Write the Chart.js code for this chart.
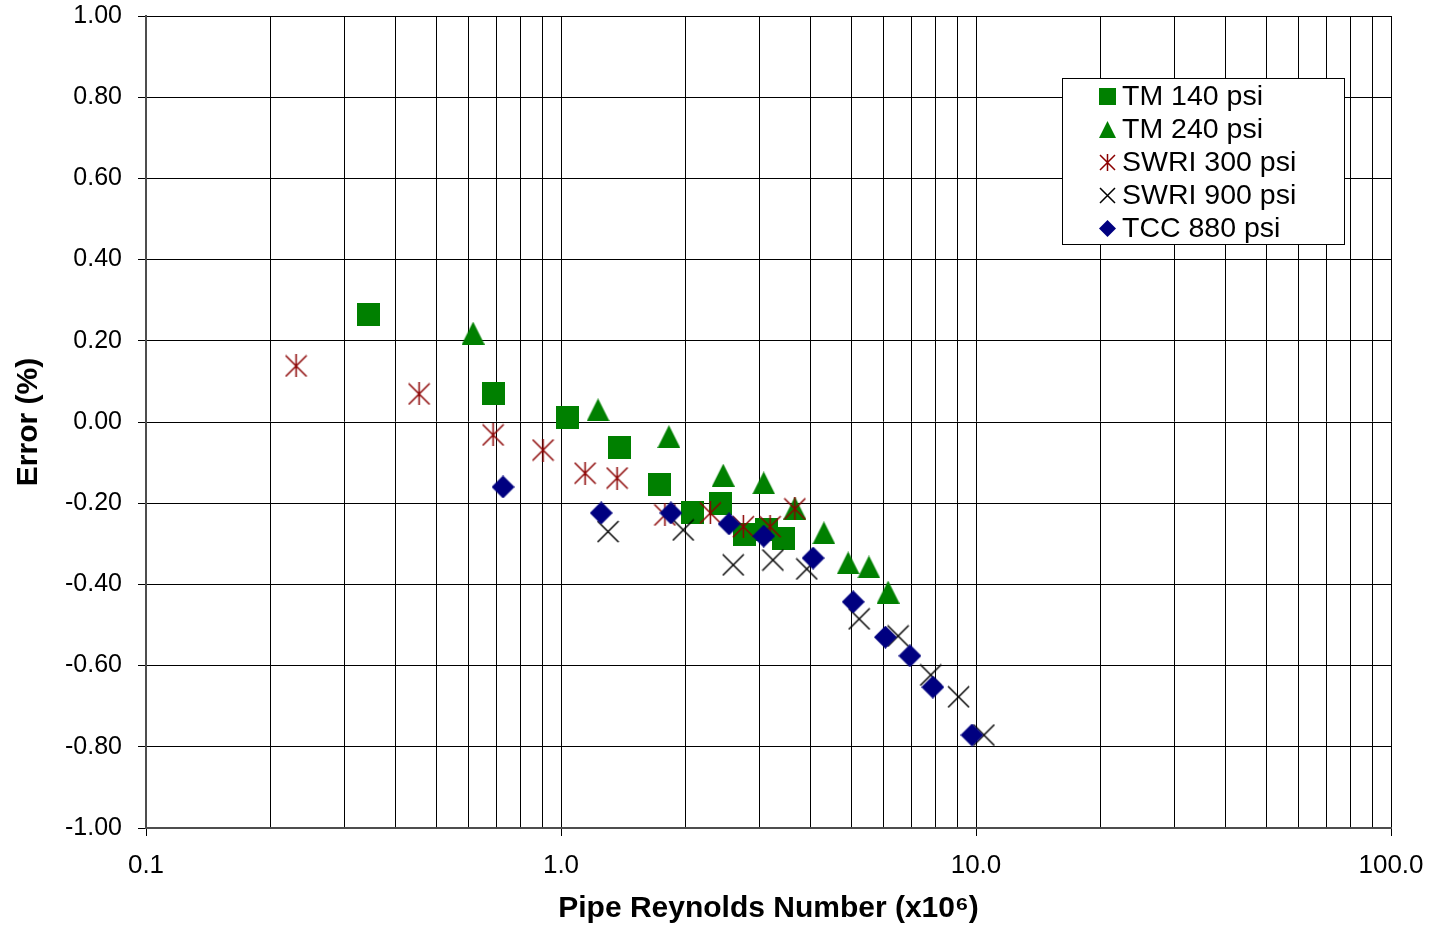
<!DOCTYPE html>
<html>
<head>
<meta charset="utf-8">
<title>Meter error vs pipe Reynolds number</title>
<script src="https://cdn.jsdelivr.net/npm/chart.js@4/dist/chart.umd.min.js"></script>
<style>
  html, body { margin: 0; padding: 0; background: #ffffff; }
  #wrap { width: 1431px; height: 927px; }
</style>
</head>
<body>
<div id="wrap"><canvas id="chart" width="1431" height="927"></canvas></div>
<script>
// Pipe Reynolds number (x10^6) and error (%) for each test series
const tm140X = [0.344, 0.686, 1.034, 1.387, 1.73, 2.07, 2.42, 2.77, 3.13, 3.43];
const tm140Y = [0.266, 0.071, 0.012, -0.062, -0.155, -0.224, -0.200, -0.278, -0.264, -0.286];

const tm240X = [0.614, 1.228, 1.82, 2.46, 3.08, 3.66, 4.30, 4.92, 5.52, 6.14];
const tm240Y = [0.219, 0.030, -0.036, -0.131, -0.150, -0.212, -0.273, -0.347, -0.357, -0.419];

const swri300X = [0.230, 0.455, 0.686, 0.905, 1.143, 1.365, 1.78, 2.29, 2.75, 3.19, 3.66];
const swri300Y = [0.138, 0.069, -0.032, -0.069, -0.126, -0.138, -0.229, -0.224, -0.258, -0.258, -0.214];

const swri900X = [1.298, 1.97, 2.60, 3.24, 3.91, 5.23, 6.49, 7.78, 9.08, 10.45];
const swri900Y = [-0.270, -0.266, -0.352, -0.340, -0.362, -0.485, -0.527, -0.623, -0.677, -0.771];

const tcc880X = [0.725, 1.25, 1.84, 2.54, 3.08, 4.05, 5.06, 6.05, 6.93, 7.87, 9.78];
const tcc880Y = [-0.160, -0.224, -0.224, -0.251, -0.281, -0.335, -0.443, -0.530, -0.576, -0.653, -0.771];

const seriesNames = ['TM 140 psi', 'TM 240 psi', 'SWRI 300 psi', 'SWRI 900 psi', 'TCC 880 psi'];

// Axis ticks
const xGridValues = [0.1, 0.2, 0.3, 0.4, 0.5, 0.6, 0.7, 0.8, 0.9,
                     1, 2, 3, 4, 5, 6, 7, 8, 9,
                     10, 20, 30, 40, 50, 60, 70, 80, 90, 100];
const xMajorTicks = [0.1, 1, 10, 100];
const xTickLabels = ['0.1', '1.0', '10.0', '100.0'];
const yTickValues = [-1, -0.8, -0.6, -0.4, -0.2, 0, 0.2, 0.4, 0.6, 0.8, 1];

const FONT = "'Liberation Sans', Arial, Helvetica, sans-serif";

function toPoints(xs, ys) {
  return xs.map((x, i) => ({ x: x, y: ys[i] }));
}

// Marker images, drawn centred on each point
function makeMarker(shape, size, color) {
  const c = document.createElement('canvas');
  c.width = size; c.height = size;
  const g = c.getContext('2d');
  const s = size;
  g.fillStyle = color;
  g.strokeStyle = color;
  g.lineWidth = 1.5;
  g.beginPath();
  if (shape === 'square') {
    g.fillRect(0, 0, s, s);
  } else if (shape === 'triangle') {
    g.moveTo(s / 2, 0); g.lineTo(s, s); g.lineTo(0, s); g.closePath(); g.fill();
  } else if (shape === 'diamond') {
    g.moveTo(s / 2, 0); g.lineTo(s, s / 2); g.lineTo(s / 2, s); g.lineTo(0, s / 2); g.closePath(); g.fill();
  } else if (shape === 'cross') {
    g.moveTo(1, 1); g.lineTo(s - 1, s - 1);
    g.moveTo(s - 1, 1); g.lineTo(1, s - 1);
    g.stroke();
  } else if (shape === 'asterisk') {
    g.moveTo(1, 1); g.lineTo(s - 1, s - 1);
    g.moveTo(s - 1, 1); g.lineTo(1, s - 1);
    g.moveTo(s / 2, 0); g.lineTo(s / 2, s);
    g.stroke();
  }
  return c;
}

const seriesStyle = [
  { shape: 'square',   color: '#008000' },
  { shape: 'triangle', color: '#008000' },
  { shape: 'asterisk', color: '#8b0000' },
  { shape: 'cross',    color: '#000000' },
  { shape: 'diamond',  color: '#000080' }
];
const bigMarkers = seriesStyle.map(s => makeMarker(s.shape, 23, s.color));
const smallMarkers = seriesStyle.map(s => makeMarker(s.shape, 17, s.color));

const seriesData = [
  toPoints(tm140X, tm140Y),
  toPoints(tm240X, tm240Y),
  toPoints(swri300X, swri300Y),
  toPoints(swri900X, swri900Y),
  toPoints(tcc880X, tcc880Y)
];

const datasets = seriesData.map((d, i) => ({
  label: seriesNames[i],
  data: d,
  showLine: false,
  pointStyle: bigMarkers[i],
  pointRadius: 12,
  pointHoverRadius: 12,
  borderColor: seriesStyle[i].color,
  backgroundColor: seriesStyle[i].color,
  order: seriesNames.length - i   // later series sit on top
}));

// Boxed legend inside the plot area
const boxLegend = {
  id: 'boxLegend',
  afterDraw(chart, args, opts) {
    const ctx = chart.ctx;
    ctx.save();
    ctx.fillStyle = '#ffffff';
    ctx.strokeStyle = '#000000';
    ctx.lineWidth = 1;
    ctx.fillRect(opts.left, opts.top, opts.width, opts.height);
    ctx.strokeRect(opts.left + 0.5, opts.top + 0.5, opts.width, opts.height);
    ctx.font = opts.fontSize + 'px ' + FONT;
    ctx.fillStyle = '#000000';
    ctx.textBaseline = 'middle';
    ctx.textAlign = 'left';
    chart.data.datasets.forEach((ds, i) => {
      const y = opts.firstRow + i * opts.rowStep;
      const m = smallMarkers[i];
      ctx.drawImage(m, Math.round(opts.markerX - m.width / 2), Math.round(y - m.height / 2));
      ctx.fillText(ds.label, opts.textX, y + 1);
    });
    ctx.restore();
  }
};

new Chart(document.getElementById('chart'), {
  type: 'scatter',
  data: { datasets: datasets },
  plugins: [boxLegend],
  options: {
    responsive: false,
    animation: false,
    events: [],
    layout: { padding: { left: 0, right: 40, top: 16, bottom: 0 } },
    plugins: {
      legend: { display: false },
      tooltip: { enabled: false },
      boxLegend: {
        left: 1062, top: 78, width: 282, height: 166,
        markerX: 1107, textX: 1122, firstRow: 96, rowStep: 33, fontSize: 28.5
      }
    },
    scales: {
      x: {
        type: 'logarithmic',
        position: 'bottom',
        min: 0.1,
        max: 100,
        afterBuildTicks(scale) {
          scale.ticks = xGridValues.map(v => ({ value: v, major: xMajorTicks.includes(v) }));
        },
        afterFit(scale) {
          scale.height = 99;
          scale.paddingLeft = 0;
          scale.paddingRight = 0;
        },
        ticks: {
          autoSkip: false,
          maxRotation: 0,
          minRotation: 0,
          padding: 14,
          color: '#000000',
          font: { family: FONT, size: 26 },
          callback(value) {
            const k = xMajorTicks.indexOf(value);
            return k >= 0 ? xTickLabels[k] : '';
          }
        },
        grid: {
          color: '#000000',
          lineWidth: 1,
          drawTicks: true,
          tickLength: 8,
          tickColor(ctx) {
            return ctx.tick && xMajorTicks.includes(ctx.tick.value) ? '#000000' : 'rgba(0,0,0,0)';
          }
        },
        border: { display: true, color: '#4d4d4d', width: 2 },
        title: {
          display: true,
          text: 'Pipe Reynolds Number (x10\u2076)',
          color: '#000000',
          font: { family: FONT, size: 30, weight: 'bold' },
          padding: { top: 0, bottom: 0 }
        }
      },
      y: {
        type: 'linear',
        position: 'left',
        min: -1,
        max: 1,
        afterBuildTicks(scale) {
          scale.ticks = yTickValues.map(v => ({ value: v }));
        },
        afterFit(scale) {
          scale.width = 146;
          scale.paddingTop = 0;
          scale.paddingBottom = 0;
        },
        ticks: {
          padding: 16,
          color: '#000000',
          font: { family: FONT, size: 25 },
          callback(value) {
            const v = Math.abs(value) < 1e-9 ? 0 : value;
            return v.toFixed(2);
          }
        },
        grid: {
          color: '#000000',
          lineWidth: 1,
          drawTicks: true,
          tickLength: 8,
          tickColor: '#000000'
        },
        border: { display: true, color: '#4d4d4d', width: 2 },
        title: {
          display: true,
          text: 'Error (%)',
          color: '#000000',
          font: { family: FONT, size: 30, weight: 'bold' },
          padding: { top: 11, bottom: 0 }
        }
      }
    }
  }
});
</script>
</body>
</html>
